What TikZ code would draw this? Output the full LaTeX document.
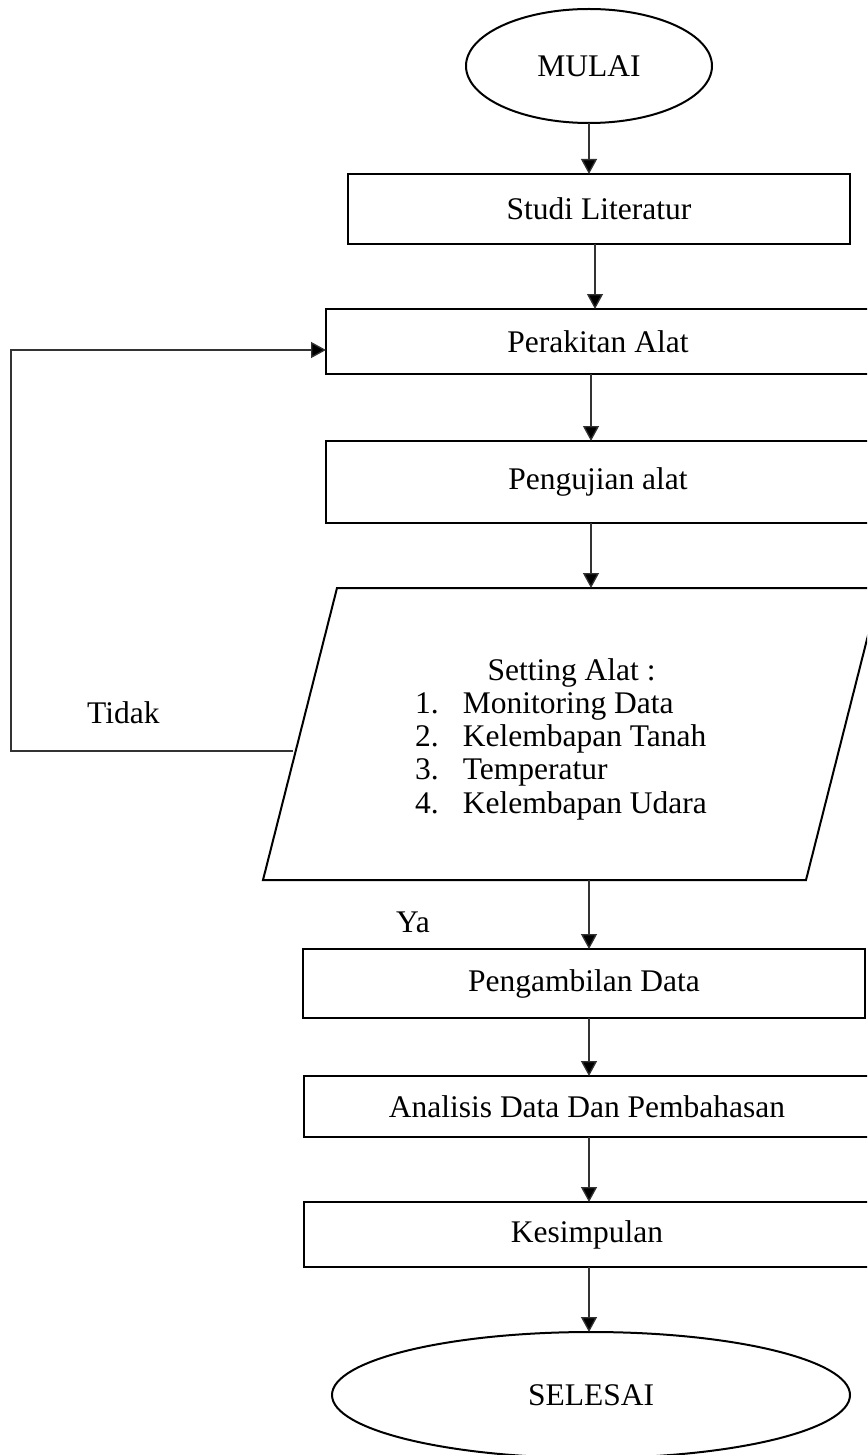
\documentclass[tikz,border=0pt]{standalone}
\usepackage{fontspec}
\setmainfont{Liberation Serif}
\usetikzlibrary{shapes.geometric,arrows.meta}
\begin{document}
\begin{tikzpicture}[x=1pt,y=-1pt,
  txt/.style={font=\fontsize{31.5}{33.3}\selectfont},
  box/.style={txt,draw=black,line width=2pt,rectangle,inner sep=0pt,outer sep=0pt},
  term/.style={txt,draw=black,line width=2pt,ellipse,inner sep=0pt,outer sep=0pt},
  arr/.style={draw=black!80,line width=1.3pt,-{Triangle[width=16pt,length=15pt,fill=black]}},
  lbl/.style={txt,inner sep=0pt}]
\useasboundingbox (0,0) rectangle (867,1455);
\clip (0,0) rectangle (867,1455);
\fill[white] (0,0) rectangle (867,1455);

\node[term,minimum width=246,minimum height=114] (mulai) at (589,66) {MULAI};
\node[box,minimum width=502,minimum height=70] (studi) at (599,209) {Studi Literatur};
\node[box,minimum width=544,minimum height=65] (perakitan) at (598,341.5) {Perakitan Alat};
\node[box,minimum width=544,minimum height=82] (pengujian) at (598,482) {Pengujian alat};

% parallelogram (input/output)
\draw[black,line width=2pt,line join=miter] (337,588) -- (880,588) -- (806,880) -- (263,880) -- cycle;
\coordinate (ptop) at (591,588);
\coordinate (pbot) at (589,880);
\coordinate (pleft) at (293,751);
\node[lbl,anchor=base west] (setting) at (415,680) {\begin{tabular}[t]{@{}l@{\hspace{24pt}}l@{}}
\multicolumn{2}{@{}c@{}}{\hspace{21pt}Setting Alat :}\\
1. & Monitoring Data\\
2. & Kelembapan Tanah\\
3. & Temperatur\\
4. & Kelembapan Udara
\end{tabular}};

\node[box,minimum width=562,minimum height=69] (ambil) at (584,983.5) {Pengambilan Data};
\node[box,minimum width=566,minimum height=61] (analisis) at (587,1106.5) {Analisis Data Dan Pembahasan};
\node[box,minimum width=566,minimum height=65] (simpul) at (587,1234.5) {Kesimpulan};
\node[term,minimum width=518,minimum height=126] (selesai) at (591,1395) {SELESAI};

\node[lbl,anchor=base west] (tidak) at (87,723) {Tidak};
\node[lbl,anchor=base west] (ya) at (396,932) {Ya};

\coordinate (fbcorner) at (11,751);

\draw[arr] (mulai.south) -- (mulai.south |- studi.north);
\draw[arr] ([xshift=-4pt]studi.south) -- ([xshift=-4pt]studi.south |- perakitan.north);
\draw[arr] ([xshift=-7pt]perakitan.south) -- ([xshift=-7pt]perakitan.south |- pengujian.north);
\draw[arr] ([xshift=-7pt]pengujian.south) -- (ptop);
\draw[arr] (pbot) -- (pbot |- ambil.north);
\draw[arr] ([xshift=5pt]ambil.south) -- ([xshift=5pt]ambil.south |- analisis.north);
\draw[arr] ([xshift=2pt]analisis.south) -- ([xshift=2pt]analisis.south |- simpul.north);
\draw[arr] ([xshift=2pt]simpul.south) -- ([xshift=2pt]simpul.south |- selesai.north);
\draw[arr,line join=miter] (pleft) -- (fbcorner) |- ([yshift=-8.5pt]perakitan.west);
\end{tikzpicture}
\end{document}
